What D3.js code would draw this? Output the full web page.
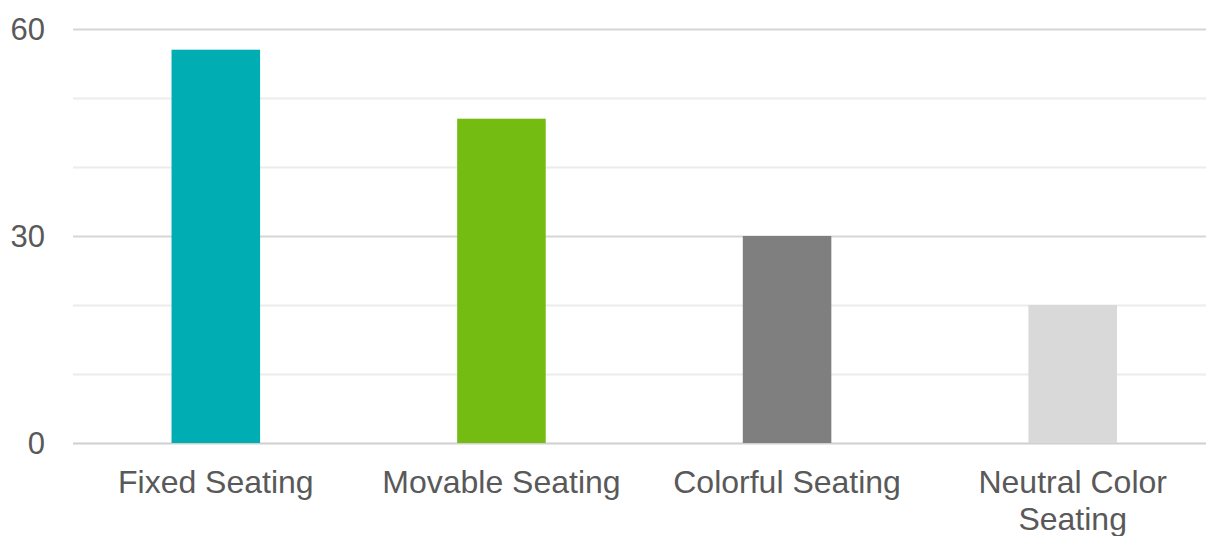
<!DOCTYPE html>
<html>
<head>
<meta charset="utf-8">
<script src="https://cdn.jsdelivr.net/npm/d3@7"></script>
<style>
  html, body { margin: 0; padding: 0; background: #fff; }
  svg text { font-family: "Liberation Sans", Arial, sans-serif; fill: #595959; }
</style>
</head>
<body>
<div id="chart"></div>
<script>
// data
var categories = ["Fixed Seating", "Movable Seating", "Colorful Seating", "Neutral Color Seating"];
var values = [57, 47, 30, 20];
var barColors = ["#00adb3", "#74bb12", "#7f7f7f", "#d9d9d9"];
var yTicks = [0, 10, 20, 30, 40, 50, 60];
var yLabels = [0, 30, 60];

var W = 1206, H = 536;
var plotLeft = 73, plotRight = 1215.5, plotTop = 29, plotBottom = 443;

var svg = d3.select("#chart").append("svg")
  .attr("width", W)
  .attr("height", H);

var x = d3.scaleBand()
  .domain(categories)
  .range([plotLeft, plotRight])
  .paddingInner(0.69)
  .paddingOuter(0.345);

var y = d3.scaleLinear()
  .domain([0, 60])
  .range([plotBottom, plotTop]);

// gridlines
svg.append("g")
  .selectAll("line")
  .data(yTicks)
  .enter()
  .append("line")
  .attr("x1", plotLeft)
  .attr("x2", W)
  .attr("y1", function (d) { return Math.round(y(d)) + 0.5; })
  .attr("y2", function (d) { return Math.round(y(d)) + 0.5; })
  .attr("stroke", function (d) {
    if (d === 0) return "#cfcfcf";
    return yLabels.indexOf(d) >= 0 ? "#d6d6d6" : "#ececec";
  })
  .attr("stroke-width", 2);

// y labels
svg.append("g")
  .selectAll("text")
  .data(yLabels)
  .enter()
  .append("text")
  .attr("x", 45)
  .attr("y", function (d) { return y(d); })
  .attr("dy", "0.35em")
  .attr("text-anchor", "end")
  .style("font-size", "31px")
  .text(function (d) { return d; });

// bars
svg.append("g")
  .selectAll("rect")
  .data(values)
  .enter()
  .append("rect")
  .attr("x", function (d, i) { return x(categories[i]); })
  .attr("width", x.bandwidth())
  .attr("y", function (d) { return y(d); })
  .attr("height", function (d) { return y(0) - y(d); })
  .attr("fill", function (d, i) { return barColors[i]; });

// category labels, wrap the long one
var labelLines = {
  "Neutral Color Seating": ["Neutral Color", "Seating"]
};
var lab = svg.append("g")
  .selectAll("text")
  .data(categories)
  .enter()
  .append("text")
  .attr("x", function (d) { return x(d) + x.bandwidth() / 2; })
  .attr("y", 482)
  .attr("text-anchor", "middle")
  .style("font-size", "32px");

lab.each(function (d) {
  var lines = labelLines[d] || [d];
  var t = d3.select(this);
  lines.forEach(function (s, i) {
    t.append("tspan")
      .attr("x", x(d) + x.bandwidth() / 2)
      .attr("dy", i === 0 ? "0.35em" : "1.15em")
      .text(s);
  });
});
</script>
</body>
</html>
